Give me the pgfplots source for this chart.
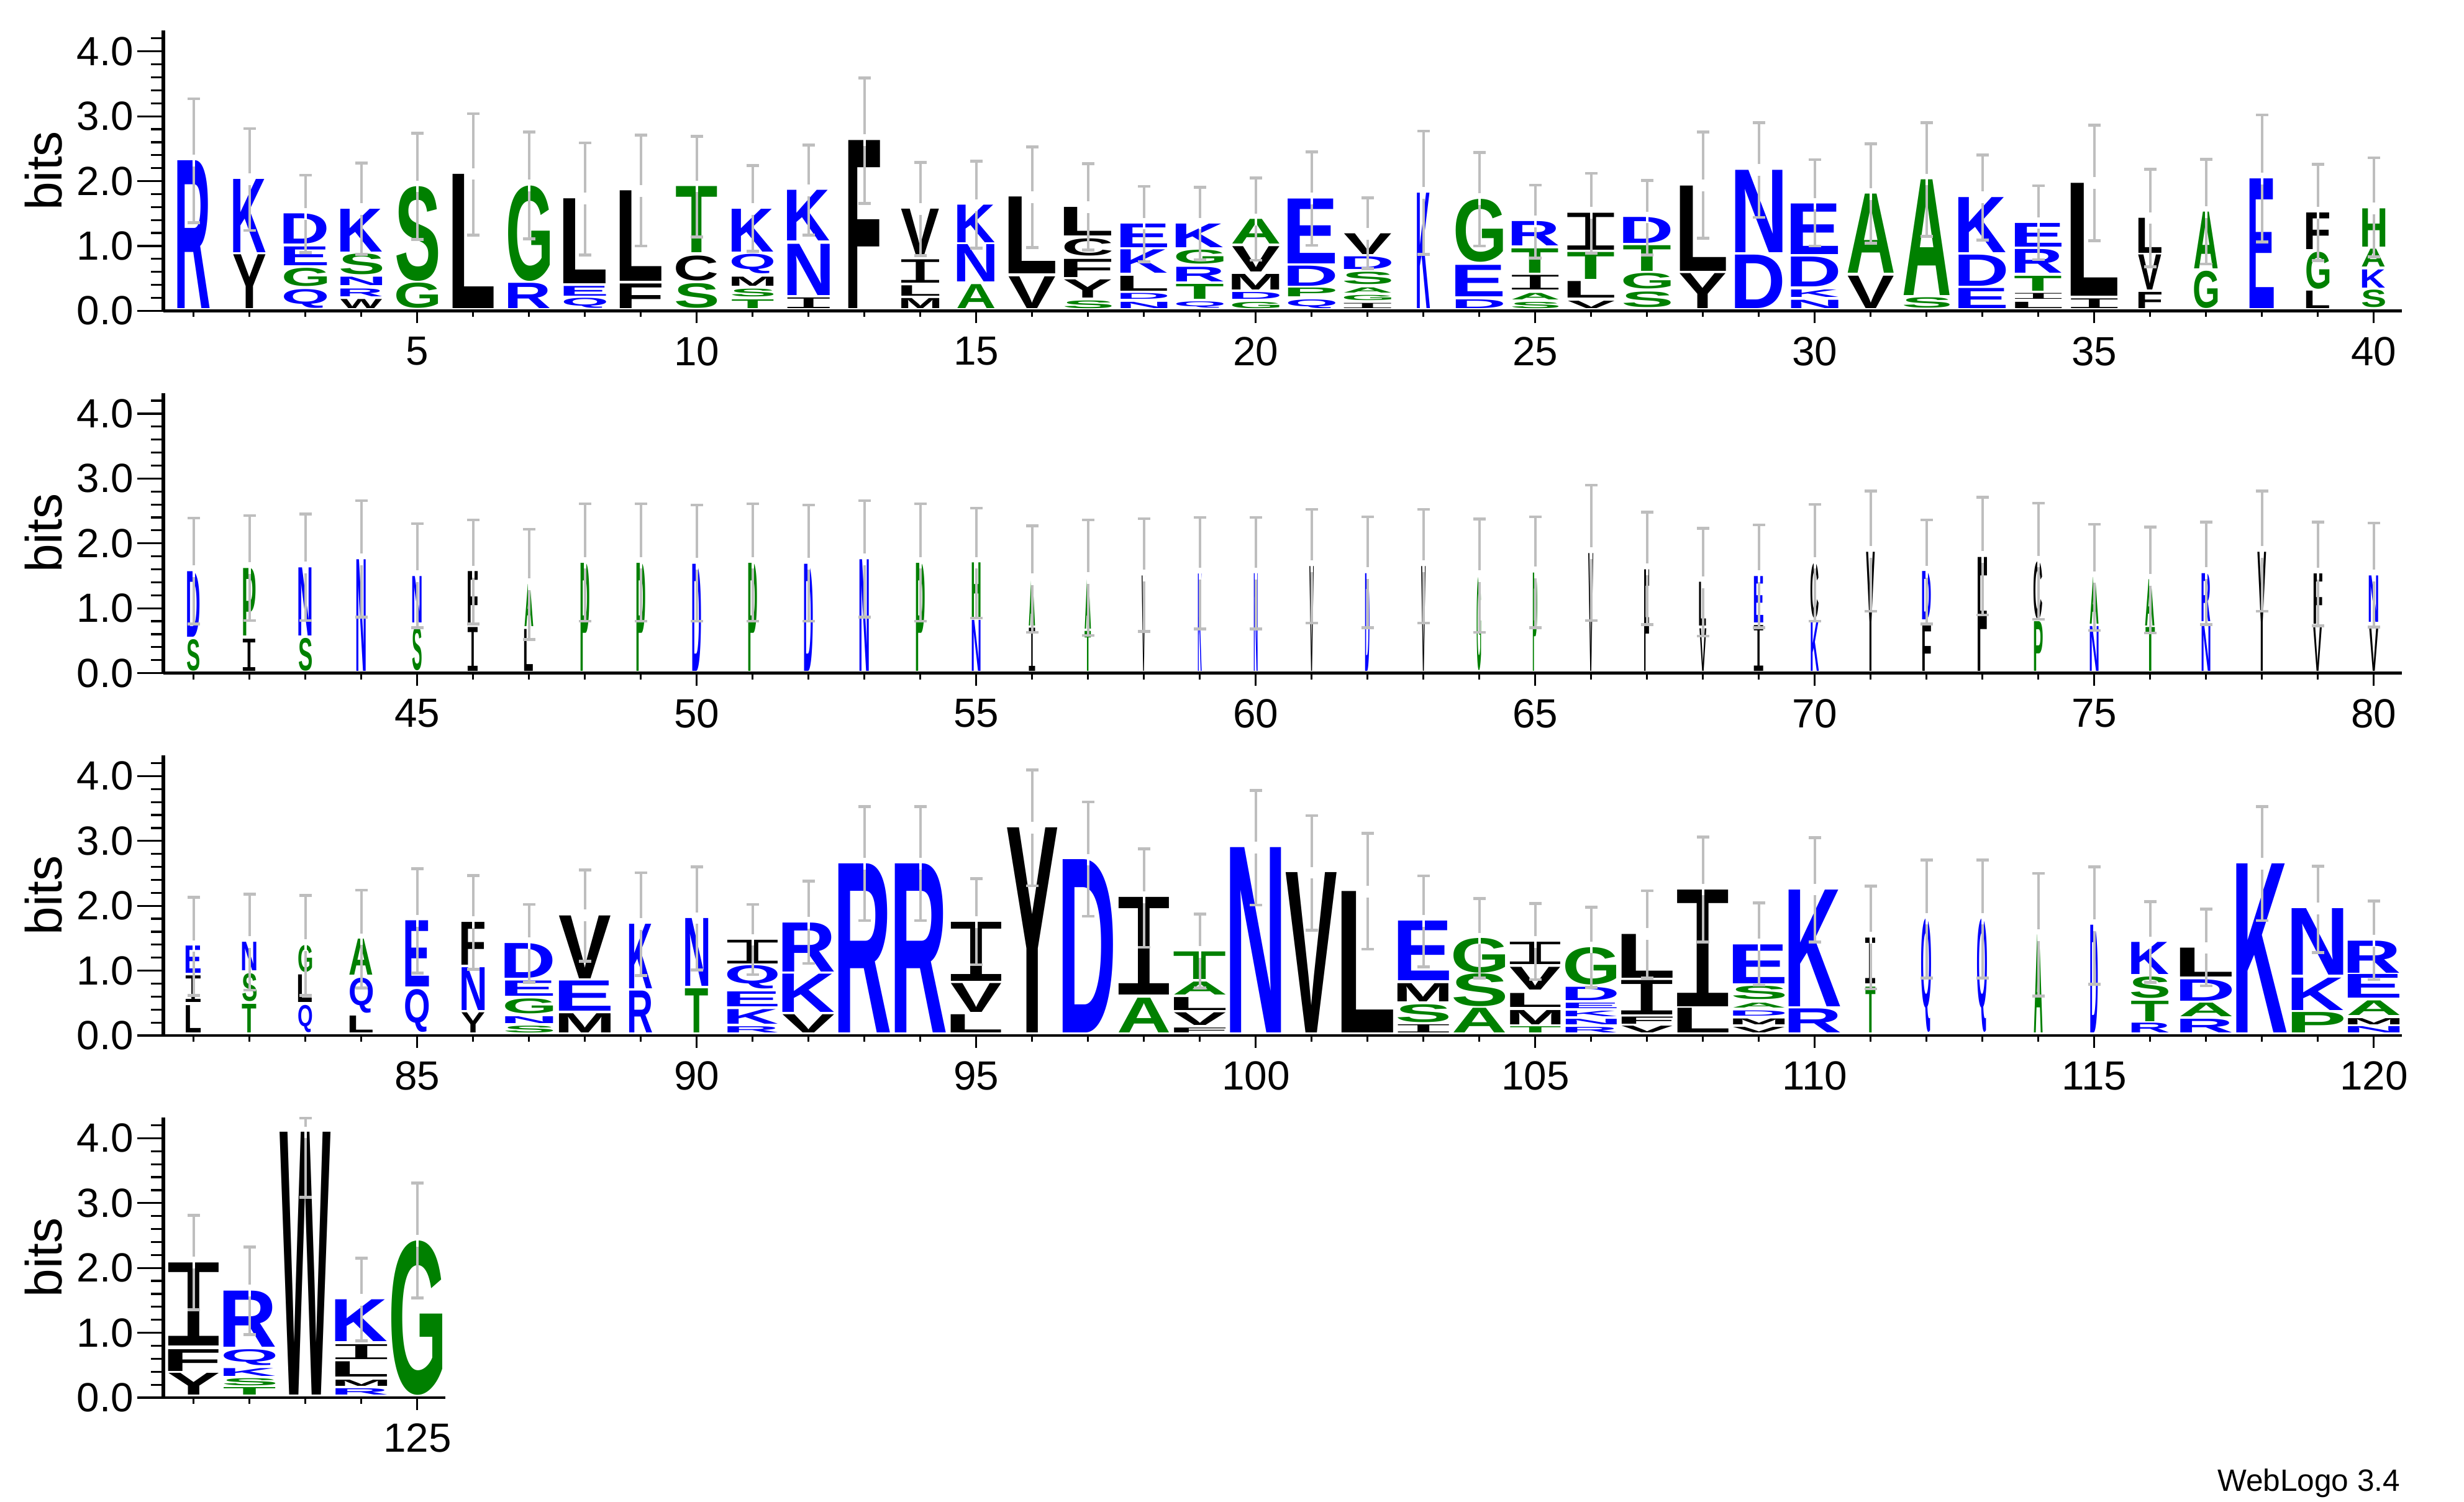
\documentclass[border=0pt]{standalone}
\usepackage{fontspec}
\usepackage{graphicx}
\usepackage{pgfplots}
\usepackage{pgfplotstable}
\pgfplotsset{compat=1.18}
\setmainfont{Liberation Sans}
\newfontfamily\logofont{Liberation Sans}[BoldFont=* Bold]
\newfontfamily\logomono{Liberation Mono}

\definecolor{logoblue}{RGB}{0,0,255}
\definecolor{logogreen}{RGB}{0,128,0}
\definecolor{logogray}{RGB}{190,190,190}
\colorlet{cD}{logoblue}\colorlet{cE}{logoblue}\colorlet{cK}{logoblue}
\colorlet{cN}{logoblue}\colorlet{cQ}{logoblue}\colorlet{cR}{logoblue}
\colorlet{cA}{logogreen}\colorlet{cG}{logogreen}\colorlet{cH}{logogreen}
\colorlet{cP}{logogreen}\colorlet{cS}{logogreen}\colorlet{cT}{logogreen}
\colorlet{cC}{black}\colorlet{cF}{black}\colorlet{cI}{black}\colorlet{cL}{black}
\colorlet{cM}{black}\colorlet{cV}{black}\colorlet{cW}{black}\colorlet{cY}{black}

% one letter, side bearings trimmed so that it fills its box
\newcommand\logoglyph[1]{\hbox{\color{c#1}\ifx#1I\logomono\else\logofont\bfseries\fi
  \kern-\XeTeXglyphbounds1 \XeTeXcharglyph`#1\relax #1\kern-\XeTeXglyphbounds3 \XeTeXcharglyph`#1\relax}}
\newcommand\logoletter{\edef\lett{\pgfplotspointmeta}%
  \resizebox*{\wpt pt}{\hpt pt}{\expandafter\logoglyph\expandafter{\lett}}}

% x = position, lo/hi = bottom and top of the letter in bits, w = width in px of the reference
\pgfplotstableread{
x lo hi w let
1 0.04 2.32 52 R
2 0.90 2.03 52 K
2 0.04 0.87 52 Y
3 1.03 1.495 69 D
3 0.70 0.99 69 E
3 0.38 0.66 69 G
3 0.04 0.33 69 Q
4 0.91 1.57 67 K
4 0.56 0.88 67 S
4 0.39 0.52 67 N
4 0.22 0.34 67 R
4 0.04 0.18 67 W
5 0.46 1.92 67 S
5 0.04 0.43 67 G
6 0.04 2.11 66 L
7 0.46 1.93 67 G
7 0.04 0.43 67 R
8 0.42 1.73 68 L
8 0.23 0.38 68 E
8 0.04 0.195 68 Q
9 0.455 1.85 67 L
9 0.04 0.42 67 F
10 0.90 1.92 66 T
10 0.46 0.845 66 C
10 0.04 0.42 66 S
11 0.91 1.57 67 K
11 0.57 0.87 67 Q
11 0.38 0.52 67 M
11 0.22 0.34 67 S
11 0.04 0.175 67 T
12 1.08 1.86 68 K
12 0.24 1.03 68 N
12 0.04 0.205 68 I
13 0.04 2.63 51 F
14 0.86 1.57 61 V
14 0.43 0.79 61 I
14 0.23 0.39 61 L
14 0.04 0.195 61 M
15 1.05 1.63 60 K
15 0.445 1.02 60 N
15 0.04 0.41 60 A
16 0.57 1.755 75 L
16 0.04 0.53 75 V
17 1.16 1.60 76 L
17 0.845 1.11 76 C
17 0.52 0.80 76 F
17 0.20 0.48 76 Y
17 0.04 0.16 76 S
18 0.98 1.345 75 E
18 0.58 0.94 75 K
18 0.31 0.54 75 L
18 0.18 0.27 75 D
18 0.04 0.137 75 N
19 0.98 1.345 76 K
19 0.725 0.94 76 G
19 0.445 0.67 76 R
19 0.18 0.41 76 T
19 0.04 0.137 76 Q
20 1.03 1.41 76 A
20 0.60 0.99 76 V
20 0.32 0.56 76 M
20 0.185 0.29 76 D
20 0.04 0.137 76 G
21 0.73 1.73 76 E
21 0.385 0.695 76 D
21 0.215 0.35 76 P
21 0.04 0.175 76 Q
22 0.87 1.19 76 V
22 0.64 0.835 76 D
22 0.41 0.60 76 S
22 0.28 0.36 76 A
22 0.16 0.24 76 G
22 0.04 0.12 76 I
23 0.04 1.82 21 K
24 0.75 1.72 76 G
24 0.215 0.70 76 E
24 0.04 0.175 76 D
25 1.005 1.38 75 R
25 0.585 0.96 75 T
25 0.325 0.55 75 I
25 0.17 0.27 75 A
25 0.04 0.137 75 S
26 0.94 1.51 75 I
26 0.49 0.905 75 T
26 0.20 0.455 75 L
26 0.04 0.154 75 V
27 1.04 1.44 76 D
27 0.615 1.01 76 T
27 0.34 0.58 76 G
27 0.05 0.29 76 S
28 0.615 1.93 74 L
28 0.04 0.58 74 Y
29 0.90 2.17 76 N
29 0.04 0.865 76 D
30 0.87 1.65 76 E
30 0.37 0.83 76 D
30 0.21 0.325 76 K
30 0.04 0.168 76 N
31 0.58 1.80 74 A
31 0.04 0.54 74 V
32 0.24 2.025 74 A
32 0.04 0.20 74 S
33 0.90 1.75 76 K
33 0.385 0.865 76 D
33 0.04 0.35 76 E
34 0.99 1.355 75 E
34 0.585 0.95 75 R
34 0.31 0.54 75 T
34 0.18 0.27 75 I
34 0.04 0.137 75 L
35 0.23 1.97 75 L
35 0.04 0.19 75 I
36 0.89 1.43 37 L
36 0.325 0.865 37 V
36 0.04 0.29 37 F
37 0.65 1.525 38 A
37 0.04 0.615 38 G
38 0.04 2.04 39 E
39 0.95 1.515 37 F
39 0.34 0.91 37 G
39 0.04 0.31 37 L
40 0.99 1.58 37 H
40 0.675 0.95 37 A
40 0.355 0.635 37 K
40 0.05 0.32 37 S
}\rowAletters

% top = top of the stack, lo/hi = ends of the error bar
\pgfplotstableread{
x top lo hi
1 2.32 1.36 3.27
2 2.03 1.24 2.81
3 1.495 0.90 2.09
4 1.57 0.87 2.28
5 1.92 1.10 2.74
6 2.11 1.17 3.04
7 1.93 1.11 2.76
8 1.73 0.86 2.59
9 1.85 1.00 2.71
10 1.92 1.14 2.69
11 1.57 0.92 2.24
12 1.86 1.17 2.555
13 2.63 1.655 3.59
14 1.57 0.85 2.29
15 1.63 0.965 2.305
16 1.755 0.975 2.53
17 1.60 0.94 2.27
18 1.345 0.755 1.92
19 1.345 0.79 1.905
20 1.41 0.78 2.05
21 1.73 1.01 2.45
22 1.19 0.65 1.74
23 1.82 0.87 2.77
24 1.72 1.00 2.44
25 1.38 0.81 1.94
26 1.51 0.89 2.12
27 1.44 0.86 2.01
28 1.93 1.12 2.76
29 2.17 1.44 2.90
30 1.65 1.00 2.33
31 1.80 1.04 2.575
32 2.025 1.15 2.90
33 1.75 1.09 2.40
34 1.355 0.79 1.93
35 1.97 1.08 2.865
36 1.43 0.68 2.185
37 1.525 0.72 2.335
38 2.04 1.06 3.02
39 1.515 0.775 2.26
40 1.58 0.83 2.36
}\rowAstacks

\pgfplotstableread{
x lo hi w let
41 0.56 1.57 20 D
41 0.034 0.52 20 S
42 0.58 1.62 20 P
42 0.034 0.53 20 I
43 0.58 1.63 21 N
43 0.034 0.54 21 S
44 0.034 1.755 15 N
45 0.78 1.495 15 N
45 0.04 0.71 15 S
46 0.735 1.565 16 F
46 0.034 0.71 16 I
47 0.72 1.37 14 A
47 0.034 0.68 14 L
48 0.034 1.70 14 P
49 0.034 1.70 14 P
50 0.034 1.685 14 D
51 0.034 1.70 14 P
52 0.034 1.685 14 D
53 0.034 1.755 15 N
54 0.034 1.70 14 P
55 0.86 1.70 14 H
55 0.034 0.82 14 N
56 0.73 1.45 10 A
56 0.034 0.70 10 I
57 0.68 1.47 10 A
57 0.034 0.65 10 T
58 0.034 1.505 6 V
59 0.034 1.535 6 K
60 0.034 1.54 6 N
61 0.034 1.65 7 V
62 0.034 1.54 7 D
63 0.034 1.65 7 V
64 0.034 1.495 7 G
65 0.034 1.55 7 P
66 0.034 1.85 8 V
67 0.034 1.60 8 F
68 0.725 1.40 11 L
68 0.034 0.69 11 V
69 0.78 1.495 15 E
69 0.034 0.74 15 I
70 0.845 1.70 13 C
70 0.034 0.81 13 K
71 0.034 1.87 14 Y
72 0.82 1.565 14 D
72 0.034 0.76 14 F
73 0.034 1.79 15 F
74 0.83 1.72 14 C
74 0.034 0.80 14 P
75 0.76 1.48 14 A
75 0.034 0.725 14 N
76 0.725 1.44 15 A
76 0.034 0.71 15 T
77 0.80 1.54 14 R
77 0.034 0.76 14 N
78 0.034 1.87 14 Y
79 0.76 1.535 14 F
79 0.034 0.725 14 V
80 0.79 1.505 15 N
80 0.034 0.725 15 V
}\rowBletters

\pgfplotstableread{
x top lo hi
41 1.57 0.76 2.39
42 1.62 0.81 2.43
43 1.63 0.81 2.45
44 1.755 0.86 2.66
45 1.495 0.70 2.305
46 1.565 0.76 2.36
47 1.37 0.52 2.22
48 1.70 0.80 2.61
49 1.70 0.80 2.61
50 1.685 0.80 2.59
51 1.70 0.80 2.61
52 1.685 0.80 2.59
53 1.755 0.86 2.66
54 1.70 0.80 2.61
55 1.70 0.85 2.545
56 1.45 0.63 2.27
57 1.47 0.58 2.36
58 1.505 0.64 2.38
59 1.535 0.68 2.40
60 1.535 0.68 2.40
61 1.65 0.77 2.525
62 1.54 0.70 2.41
63 1.65 0.77 2.525
64 1.495 0.63 2.375
65 1.55 0.70 2.41
66 1.85 0.81 2.90
67 1.60 0.745 2.48
68 1.40 0.57 2.23
69 1.495 0.70 2.285
70 1.70 0.80 2.60
71 1.87 0.955 2.805
72 1.565 0.76 2.36
73 1.79 0.895 2.71
74 1.72 0.83 2.62
75 1.48 0.655 2.295
76 1.44 0.62 2.25
77 1.54 0.745 2.33
78 1.87 0.955 2.805
79 1.535 0.73 2.33
80 1.505 0.71 2.315
}\rowBstacks

\pgfplotstableread{
x lo hi w let
81 0.96 1.38 24 E
81 0.51 0.92 24 I
81 0.04 0.46 24 L
82 1.00 1.44 23 N
82 0.53 0.96 23 S
82 0.04 0.48 23 T
83 0.975 1.39 22 G
83 0.51 0.935 22 L
83 0.05 0.47 22 Q
84 0.93 1.485 37 A
84 0.35 0.89 37 Q
84 0.04 0.30 37 L
85 0.75 1.77 38 E
85 0.05 0.71 38 Q
86 1.085 1.745 37 F
86 0.39 1.05 37 N
86 0.04 0.35 37 Y
87 0.885 1.42 77 D
87 0.61 0.845 77 E
87 0.335 0.565 77 G
87 0.185 0.29 77 N
87 0.04 0.145 77 S
88 0.88 1.85 83 V
88 0.375 0.84 83 E
88 0.04 0.335 83 M
89 0.725 1.72 37 K
89 0.04 0.685 37 R
90 0.765 1.81 37 N
90 0.04 0.72 37 T
91 1.11 1.475 81 I
91 0.72 1.08 81 Q
91 0.445 0.675 81 E
91 0.18 0.405 81 K
91 0.04 0.135 81 R
92 0.98 1.735 83 R
92 0.36 0.95 83 K
92 0.04 0.32 83 V
93 0.04 2.645 83 R
94 0.04 2.645 82 R
95 0.84 1.75 81 I
95 0.355 0.80 81 V
95 0.04 0.32 81 L
96 0.04 3.20 81 Y
97 0.04 2.71 81 D
98 0.625 2.13 81 I
98 0.04 0.575 81 A
99 0.865 1.29 83 T
99 0.63 0.83 83 A
99 0.39 0.59 83 L
99 0.155 0.35 83 V
99 0.04 0.115 83 F
100 0.04 2.895 82 N
101 0.04 2.51 82 V
102 0.04 2.22 83 L
103 0.845 1.765 82 E
103 0.52 0.80 82 M
103 0.205 0.48 82 S
103 0.04 0.165 82 I
104 0.96 1.495 83 G
104 0.445 0.95 83 S
104 0.04 0.42 83 A
105 1.10 1.445 81 I
105 0.70 1.05 81 V
105 0.435 0.65 81 L
105 0.17 0.39 81 M
105 0.04 0.135 81 T
106 0.785 1.36 82 G
106 0.54 0.745 82 D
106 0.415 0.50 82 E
106 0.29 0.375 82 K
106 0.165 0.25 82 N
106 0.04 0.125 82 R
107 0.89 1.565 82 L
107 0.325 0.855 82 I
107 0.18 0.29 82 F
107 0.04 0.144 82 V
108 0.45 2.25 82 I
108 0.04 0.42 82 L
109 0.80 1.40 83 E
109 0.555 0.76 83 S
109 0.43 0.505 83 A
109 0.30 0.38 83 D
109 0.165 0.255 83 M
109 0.04 0.125 83 V
110 0.45 2.25 83 K
110 0.04 0.41 83 R
111 0.80 1.505 16 I
111 0.04 0.745 16 T
112 0.05 1.80 16 Q
113 0.05 1.80 16 Q
114 0.04 1.55 14 A
115 0.04 1.70 12 D
116 0.94 1.435 60 K
116 0.575 0.905 60 S
116 0.22 0.535 60 T
116 0.04 0.19 60 R
117 0.905 1.35 83 L
117 0.535 0.865 83 D
117 0.29 0.50 83 A
117 0.04 0.25 83 R
118 0.04 2.645 81 K
119 0.93 1.955 83 N
119 0.39 0.89 83 K
119 0.04 0.355 83 P
120 0.965 1.46 83 R
120 0.575 0.94 83 E
120 0.31 0.535 83 A
120 0.17 0.265 83 M
120 0.04 0.137 83 N
}\rowCletters

\pgfplotstableread{
x top lo hi
81 1.38 0.62 2.13
82 1.44 0.70 2.18
83 1.39 0.62 2.16
84 1.485 0.735 2.24
85 1.77 0.965 2.57
86 1.745 1.02 2.465
87 1.42 0.82 2.02
88 1.85 1.145 2.555
89 1.72 0.925 2.51
90 1.81 1.01 2.60
91 1.475 0.94 2.02
92 1.735 1.11 2.38
93 2.645 1.77 3.53
94 2.645 1.77 3.53
95 1.75 1.09 2.42
96 3.20 2.31 4.095
97 2.71 1.84 3.60
98 2.13 1.36 2.88
99 1.29 0.73 1.875
100 2.895 2.01 3.78
101 2.51 1.625 3.39
102 2.22 1.33 3.12
103 1.765 1.06 2.46
104 1.495 0.885 2.11
105 1.445 0.86 2.035
106 1.36 0.745 1.98
107 1.565 0.885 2.23
108 2.25 1.44 3.06
109 1.40 0.775 2.045
110 2.25 1.44 3.05
111 1.505 0.72 2.305
112 1.80 0.885 2.705
113 1.80 0.885 2.705
114 1.55 0.61 2.50
115 1.70 0.79 2.60
116 1.435 0.82 2.065
117 1.35 0.765 1.95
118 2.645 1.77 3.53
119 1.955 1.28 2.61
120 1.46 0.86 2.075
}\rowCstacks

\pgfplotstableread{
x lo hi w let
121 0.80 2.08 81 I
121 0.41 0.745 81 F
121 0.04 0.375 81 Y
122 0.785 1.65 83 R
122 0.50 0.745 83 Q
122 0.335 0.455 83 K
122 0.19 0.30 83 S
122 0.04 0.155 83 T
123 0.04 4.09 82 W
124 0.865 1.51 83 K
124 0.59 0.82 83 I
124 0.32 0.555 83 L
124 0.175 0.27 83 M
124 0.04 0.137 83 R
125 0.04 2.42 82 G
}\rowDletters

\pgfplotstableread{
x top lo hi
121 2.08 1.355 2.81
122 1.65 0.97 2.32
123 4.09 3.09 4.31
124 1.51 0.875 2.15
125 2.42 1.535 3.31
}\rowDstacks

\pgfplotsset{
  logo axis/.style={
    x=22.5pt, y=26.1pt, ymin=0, ymax=4.32,
    anchor=south west, clip=false,
    tick align=outside,
    tick style={black, line width=0.8pt},
    tick label style={font=\fontsize{16.4}{16.4}\selectfont},
    label style={font=\fontsize{20.5}{20.5}\selectfont},
  },
  logo cap/.style={forget plot, only marks, mark=-, mark size=2.5pt,
    mark options={draw=logogray, line width=1.15pt}},
}

% #1 baseline height, #2 letters, #3 stacks, #4 xmin, #5 xmax, #6 major ticks, #7 minor ticks
% y ticks, x ticks with the letters, and a third axis so the error bars lie over the letters
\newcommand\logorow[7]{%
  \begin{axis}[logo axis, at={(65.8pt,#1)}, xmin=#4, xmax=#5,
    hide x axis, axis y line*=left,
    y axis line style={line width=1.5pt},
    major tick length=10.5pt, minor tick length=5pt,
    ytick={0,1,2,3,4},
    minor ytick={0.2,0.4,0.6,0.8,1.2,1.4,1.6,1.8,2.2,2.4,2.6,2.8,3.2,3.4,3.6,3.8,4.2},
    yticklabel style={xshift=2pt, /pgf/number format/.cd, fixed, fixed zerofill, precision=1, assume math mode=true},
    ylabel=bits,
    y label style={at={(rel axis cs:0,0.5)}, anchor=center, yshift=48.25pt},
  ]
  \end{axis}
  \begin{axis}[logo axis, at={(65.8pt,#1)}, xmin=#4, xmax=#5,
    hide y axis, axis x line*=bottom,
    x axis line style={line width=1.1pt},
    major tick length=5pt, minor tick length=2.5pt,
    xtick={#6}, minor xtick={#7},
    xticklabel style={yshift=-2pt, /pgf/number format/.cd, assume math mode=true},
  ]
  \addplot[forget plot, only marks, mark=none,
    point meta=explicit symbolic,
    visualization depends on={(\thisrow{hi}-\thisrow{lo})*26.1\as\hpt},
    visualization depends on={\thisrow{w}*0.25\as\wpt},
    nodes near coords={\logoletter},
    nodes near coords style={anchor=south, inner sep=0pt, outer sep=0pt},
  ] table[x=x, y=lo, meta=let] {#2};
  \end{axis}
  \begin{axis}[logo axis, at={(65.8pt,#1)}, xmin=#4, xmax=#5, hide axis]
  \addplot[forget plot, logogray, line width=1.1pt,
    quiver={u=0, v=\thisrow{hi}-\thisrow{lo}},
  ] table[x=x, y=lo] {#3};
  \addplot[forget plot, white, line width=1.1pt,
    quiver={u=0, v=0.18},
  ] table[x=x, y expr=\thisrow{top}-0.09] {#3};
  \addplot[logo cap] table[x=x, y=hi] {#3};
  \addplot[logo cap] table[x=x, y=lo] {#3};
  \end{axis}
}

\begin{document}
\begin{tikzpicture}
\useasboundingbox (0,0) rectangle (991.75pt,604.25pt);
\logorow{479.15pt}{\rowAletters}{\rowAstacks}{0.46}{40.5}
  {5,10,15,20,25,30,35,40}
  {1,2,3,4,6,7,8,9,11,12,13,14,16,17,18,19,21,22,23,24,26,27,28,29,31,32,33,34,36,37,38,39}
\logorow{333.35pt}{\rowBletters}{\rowBstacks}{40.46}{80.5}
  {45,50,55,60,65,70,75,80}
  {41,42,43,44,46,47,48,49,51,52,53,54,56,57,58,59,61,62,63,64,66,67,68,69,71,72,73,74,76,77,78,79}
\logorow{187.5pt}{\rowCletters}{\rowCstacks}{80.46}{120.5}
  {85,90,95,100,105,110,115,120}
  {81,82,83,84,86,87,88,89,91,92,93,94,96,97,98,99,101,102,103,104,106,107,108,109,111,112,113,114,116,117,118,119}
\logorow{41.75pt}{\rowDletters}{\rowDstacks}{120.46}{125.5}
  {125}
  {121,122,123,124}
\node[anchor=base east, inner sep=0pt, font=\fontsize{12.4}{12.4}\selectfont] at (966.25pt,4.25pt) {WebLogo 3.4};
\end{tikzpicture}
\end{document}
